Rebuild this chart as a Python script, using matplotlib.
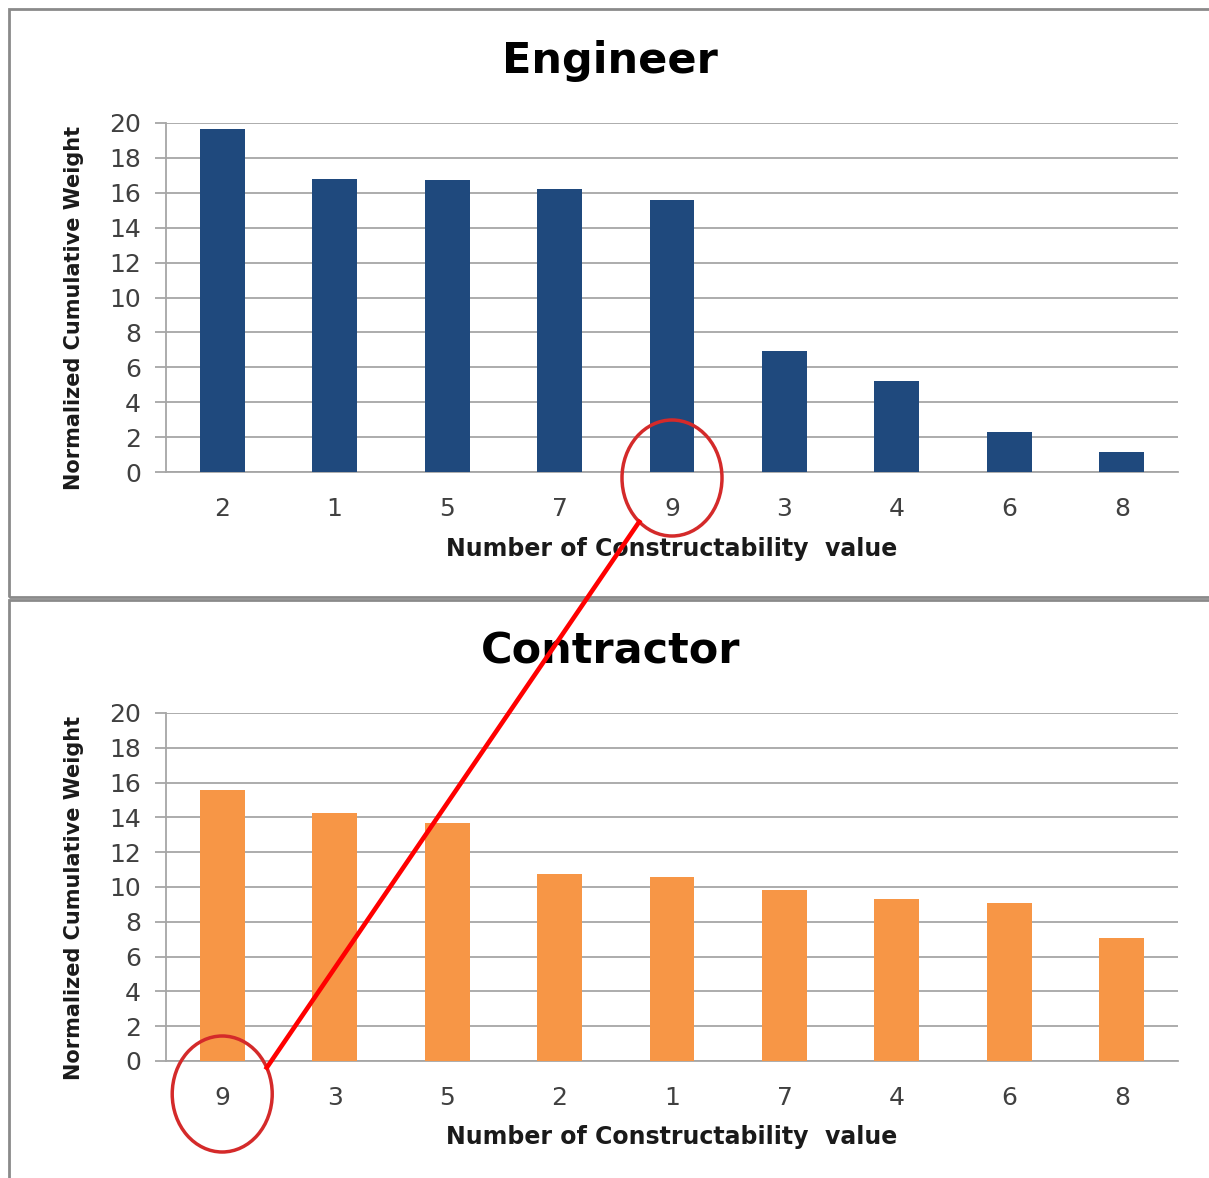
import numpy as np
import matplotlib.pyplot as plt
from matplotlib.patches import Ellipse, Rectangle
from matplotlib.lines import Line2D

# values
engineer_labels = ['2', '1', '5', '7', '9', '3', '4', '6', '8']
engineer_values = [19.65, 16.8, 16.75, 16.2, 15.6, 6.95, 5.2, 2.3, 1.15]
contractor_labels = ['9', '3', '5', '2', '1', '7', '4', '6', '8']
contractor_values = [15.55, 14.25, 13.65, 10.75, 10.55, 9.85, 9.3, 9.1, 7.05]
y_ticks = list(range(0, 21, 2))

W, H = 1209, 1178
GRID = '#a6a6a6'
TXT = '#404040'


def px_rect(left, top, right, bottom):
    # pixel box (top-left origin) -> figure fraction
    return [left / W, 1 - bottom / H, (right - left) / W, (bottom - top) / H]


def draw(ax, labels, values, color):
    x = np.arange(len(labels))
    ax.bar(x, values, width=0.4, color=color, zorder=3)
    ax.set_xlim(-0.5, len(labels) - 0.5)
    ax.set_ylim(0, 20)
    ax.set_yticks(y_ticks)
    ax.set_xticks(x, labels)
    ax.grid(axis='y', color=GRID, lw=1.3, zorder=0)
    for s in ['top', 'right']:
        ax.spines[s].set_visible(False)
    for s in ['left', 'bottom']:
        ax.spines[s].set_color(GRID)
        ax.spines[s].set_linewidth(1.3)
    ax.tick_params(axis='y', length=8, width=1.3, color=GRID, pad=10,
                   labelsize=18, labelcolor=TXT)
    ax.tick_params(axis='x', length=0, pad=18, labelsize=18, labelcolor=TXT)
    ax.set_xlabel('Number of Constructability  value', fontsize=17,
                  fontweight='bold', color='#1a1a1a')
    ax.xaxis.set_label_coords(0.5, -0.185)
    ax.set_ylabel('Normalized Cumulative Weight', fontsize=15,
                  fontweight='bold', va='center', color='#1a1a1a')
    ax.yaxis.set_label_coords(-0.091, 0.47)


fig = plt.figure(figsize=(W / 100, H / 100), dpi=100)

# panel frames
for top, bottom in [(9, 597), (600, 1190)]:
    fig.add_artist(Rectangle((9 / W, 1 - bottom / H), 1.1, (bottom - top) / H,
                             transform=fig.transFigure, fill=False,
                             ec='#8a8a8a', lw=2))

ax1 = fig.add_axes(px_rect(166, 123, 1178, 472))
ax2 = fig.add_axes(px_rect(166, 713, 1178, 1061))
draw(ax1, engineer_labels, engineer_values, '#1f497d')
draw(ax2, contractor_labels, contractor_values, '#f79646')

fig.text(610 / W, 1 - 61 / H, 'Engineer', ha='center', va='center',
         fontsize=31, fontweight='bold')
fig.text(611 / W, 1 - 651 / H, 'Contractor', ha='center', va='center',
         fontsize=31, fontweight='bold')

# red circles around category 9 and the connecting line
a, b = 50, 58


def circle_center(ax, labels, dy):
    i = labels.index('9')
    x, y = ax.transData.transform((i, 0))
    return x, y - dy


c_top = circle_center(ax1, engineer_labels, 6)
c_bot = circle_center(ax2, contractor_labels, 33)
for cx, cy in [c_top, c_bot]:
    fig.add_artist(Ellipse((cx / W, cy / H), 2 * a / W, 2 * b / H,
                           transform=fig.transFigure, fill=False,
                           ec='#d42a2a', lw=2.5, zorder=5))

t1, t2 = np.radians(229), np.radians(27)
p1 = (c_top[0] + a * np.cos(t1), c_top[1] + b * np.sin(t1))
p2 = (c_bot[0] + a * np.cos(t2), c_bot[1] + b * np.sin(t2))
fig.add_artist(Line2D([p1[0] / W, p2[0] / W], [p1[1] / H, p2[1] / H],
                      transform=fig.transFigure, color='#ff0000', lw=3.3,
                      zorder=6))

fig.savefig('out.png', dpi=100)
